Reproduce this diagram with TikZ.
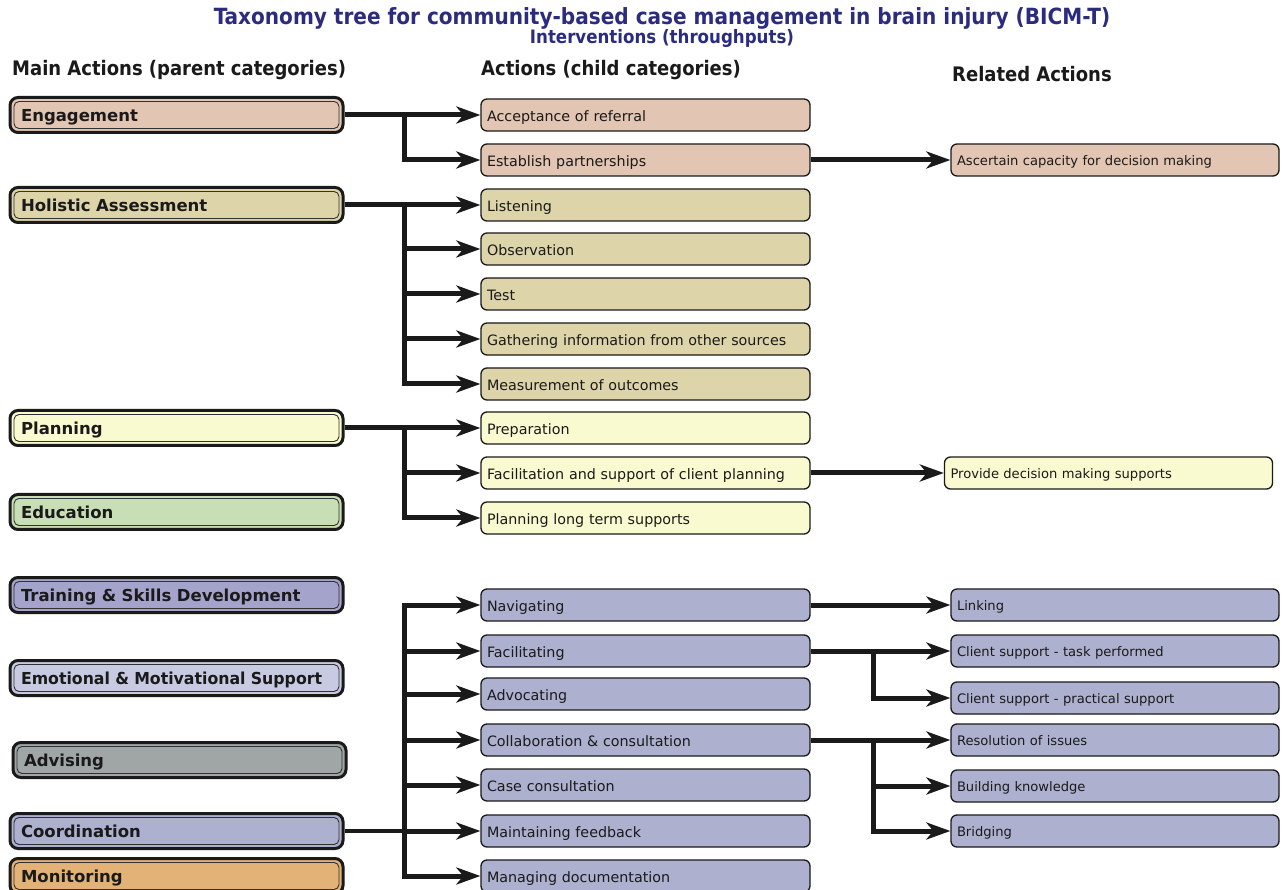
\documentclass[tikz,border=0pt]{standalone}
\usepackage{fontspec}
\usepackage{graphicx}
\setmainfont{DejaVu Sans}
\newfontfamily\condf{DejaVu Sans Condensed}
\usetikzlibrary{arrows.meta}
\definecolor{ceng}{HTML}{E2C5B2}
\definecolor{chol}{HTML}{DDD4A9}
\definecolor{cpla}{HTML}{FAFAD0}
\definecolor{cedu}{HTML}{C8DEB5}
\definecolor{ctra}{HTML}{A4A3CC}
\definecolor{cemo}{HTML}{C8CAE2}
\definecolor{cadv}{HTML}{A0A6A5}
\definecolor{ccoo}{HTML}{ADB0CF}
\definecolor{cmon}{HTML}{E3B276}
\definecolor{ctitle}{HTML}{2B2B7F}
\definecolor{cline}{HTML}{1A1A1A}
\begin{document}
\begin{tikzpicture}[x=1pt,y=-1pt,
  parentbox/.style={draw=cline, line width=3pt, rounded corners=8pt,
    minimum width=333pt, minimum height=35pt, text width=311pt, inner xsep=11pt,
    align=left, font=\bfseries\fontsize{16.5}{18}\selectfont, text=cline,
    text height=13pt, text depth=0pt,
    path picture={\draw[line width=0.9pt, draw=cline!90, rounded corners=5pt]
      ([shift={(4pt,-4pt)}]path picture bounding box.north west) rectangle
      ([shift={(-4pt,4pt)}]path picture bounding box.south east);}},
  childbox/.style={draw=cline, line width=1.3pt, rounded corners=6pt,
    minimum width=329pt, minimum height=32pt, text width=317pt, inner xsep=6pt,
    align=left, font=\fontsize{14.3}{16}\selectfont, text=cline,
    text height=12.4pt, text depth=0pt},
  relbox/.style={draw=cline, line width=1.3pt, rounded corners=6pt,
    minimum width=328pt, minimum height=32pt, text width=316pt, inner xsep=6pt,
    align=left, font=\fontsize{13.1}{15}\selectfont, text=cline,
    text height=11.6pt, text depth=0pt},
  arr/.style={draw=cline, line width=5pt, -{Stealth[length=24pt,width=17pt,inset=7pt]}},
  plainline/.style={draw=cline, line width=4pt},
  hdr/.style={font=\condf\bfseries\fontsize{20}{22}\selectfont, text=cline, inner sep=0pt, anchor=west}
]
\useasboundingbox (0,0) rectangle (1286,890);
\fill[white] (0,0) rectangle (1286,890);

% titles
\node[font=\condf\bfseries\fontsize{22.3}{25}\selectfont, text=ctitle, inner sep=0pt] (title) at (662,18) {Taxonomy tree for community-based case management in brain injury (BICM-T)};
\node[font=\condf\bfseries\fontsize{18.5}{20}\selectfont, text=ctitle, inner sep=0pt] (subtitle) at (662,38) {Interventions (throughputs)};
\node[hdr] (h1) at (12,70) {Main Actions (parent categories)};
\node[hdr] (h2) at (481,70) {Actions (child categories)};
\node[hdr] (h3) at (952,74) {Related Actions};

% parent categories
\node[parentbox, fill=ceng] (eng) at (176.5,115) {Engagement};
\node[parentbox, fill=chol] (hol) at (176.5,205) {Holistic Assessment};
\node[parentbox, fill=cpla] (pla) at (176.5,428) {Planning};
\node[parentbox, fill=cedu] (edu) at (176.5,512) {Education};
\node[parentbox, fill=ctra] (tra) at (176.5,595) {Training \& Skills Development};
\node[parentbox, fill=cemo] (emo) at (176.5,678) {\scalebox{0.955}[1]{Emotional \& Motivational Support}};
\node[parentbox, fill=cadv] (adv) at (179.5,760) {Advising};
\node[parentbox, fill=ccoo] (coo) at (176.5,831) {Coordination};
\node[parentbox, fill=cmon] (mon) at (176.5,876) {Monitoring};

% child categories
\node[childbox, fill=ceng] (acc) at (645.5,115) {Acceptance of referral};
\node[childbox, fill=ceng] (est) at (645.5,160) {Establish partnerships};
\node[childbox, fill=chol] (lis) at (645.5,205) {Listening};
\node[childbox, fill=chol] (obs) at (645.5,249) {Observation};
\node[childbox, fill=chol] (tst) at (645.5,294) {Test};
\node[childbox, fill=chol] (gat) at (645.5,339) {Gathering information from other sources};
\node[childbox, fill=chol] (mea) at (645.5,384) {Measurement of outcomes};
\node[childbox, fill=cpla] (pre) at (645.5,428) {Preparation};
\node[childbox, fill=cpla] (fcp) at (645.5,473) {Facilitation and support of client planning};
\node[childbox, fill=cpla] (plt) at (645.5,518) {Planning long term supports};
\node[childbox, fill=ccoo] (nav) at (645.5,605) {Navigating};
\node[childbox, fill=ccoo] (fac) at (645.5,651) {Facilitating};
\node[childbox, fill=ccoo] (adc) at (645.5,694) {Advocating};
\node[childbox, fill=ccoo] (col) at (645.5,740) {Collaboration \& consultation};
\node[childbox, fill=ccoo] (cas) at (645.5,785) {Case consultation};
\node[childbox, fill=ccoo] (mfb) at (645.5,831) {Maintaining feedback};
\node[childbox, fill=ccoo] (mdo) at (645.5,876) {Managing documentation};

% related actions
\node[relbox, fill=ceng] (asc) at (1115,160) {Ascertain capacity for decision making};
\node[relbox, fill=cpla] (pds) at (1108.5,473) {Provide decision making supports};
\node[relbox, fill=ccoo] (lnk) at (1115,605) {Linking};
\node[relbox, fill=ccoo] (cst) at (1115,651) {Client support - task performed};
\node[relbox, fill=ccoo] (csp) at (1115,698) {Client support - practical support};
\node[relbox, fill=ccoo] (res) at (1115,740) {Resolution of issues};
\node[relbox, fill=ccoo] (bkn) at (1115,786) {Building knowledge};
\node[relbox, fill=ccoo] (brg) at (1115,831) {Bridging};

% junctions
\coordinate (j1) at (404,115);
\coordinate (j2) at (404,205);
\coordinate (j3) at (404,428);
\coordinate (j4) at (404,831);
\coordinate (j5) at (873,651);
\coordinate (j6) at (873,740);

% connectors: parent -> child
\draw[arr] (eng.east) -- (acc.west);
\draw[arr] (j1) |- (est.west);
\draw[arr] (hol.east) -- (lis.west);
\foreach \n in {obs,tst,gat,mea} \draw[arr] (j2) |- (\n.west);
\draw[arr] (pla.east) -- (pre.west);
\foreach \n in {fcp,plt} \draw[arr] (j3) |- (\n.west);
\draw[plainline] (coo.east) -- (j4);
\foreach \n in {nav,fac,adc,col,cas,mfb,mdo} \draw[arr] (j4) |- (\n.west);

% connectors: child -> related
\draw[arr] (est.east) -- (asc.west);
\draw[arr] (fcp.east) -- (pds.west);
\draw[arr] (nav.east) -- (lnk.west);
\draw[arr] (fac.east) -- (cst.west);
\draw[arr] (j5) |- (csp.west);
\draw[arr] (col.east) -- (res.west);
\foreach \n in {bkn,brg} \draw[arr] (j6) |- (\n.west);
\end{tikzpicture}
\end{document}
